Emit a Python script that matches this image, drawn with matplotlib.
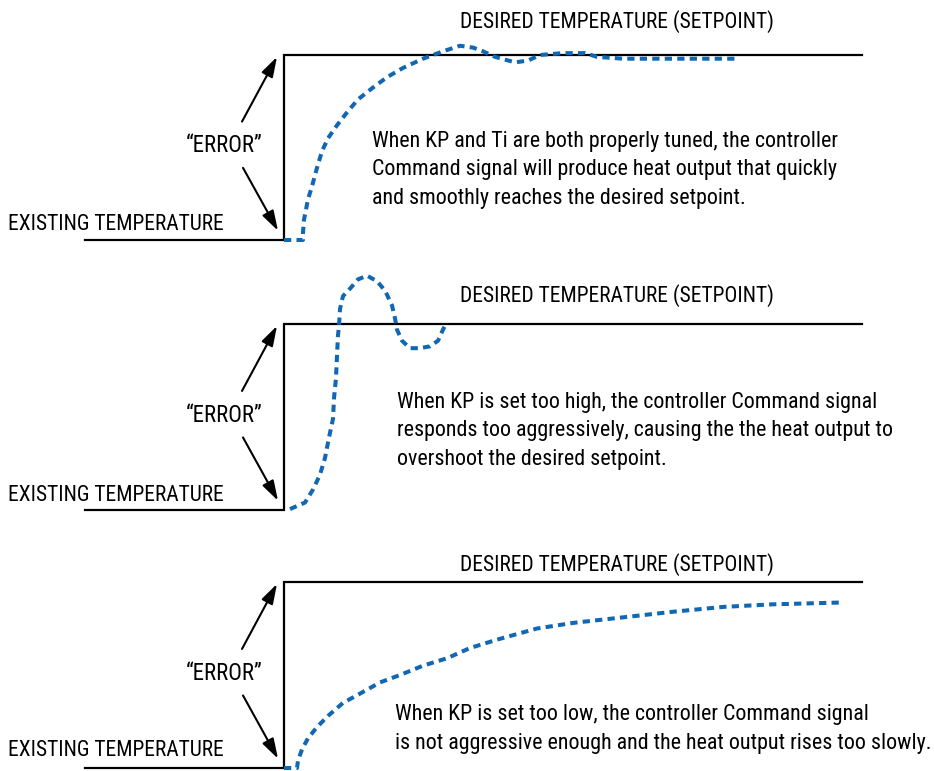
import matplotlib
matplotlib.use("Agg")
import numpy as np
import matplotlib.pyplot as plt

plt.rcParams['font.family'] = ['Roboto Condensed', 'DejaVu Sans']

# setpoint step (time, normalised temperature: 0 = existing, 1 = setpoint)
step_t = [-199, 0, 0, 578]
step_level = [0, 0, 1, 1]

# heat output responses
good_t = [0, 19, 19, 20, 24, 28, 33, 38, 44, 53, 63, 74, 88, 103, 119, 139, 159, 176,
          189, 199, 211, 231, 244, 256, 278, 289, 301, 313, 339, 451]
good_temp = [0, 0, 0.04, 0.11, 0.22, 0.29, 0.39, 0.48, 0.55, 0.62, 0.69, 0.76, 0.82, 0.88,
             0.93, 0.98, 1.02, 1.05, 1.04, 1.02, 0.99, 0.96, 0.97, 1.0, 1.01, 1.01, 1.01,
             0.99, 0.98, 0.98]

high_t = [6, 21, 29, 36, 41, 45, 49, 50, 52, 53, 54, 55, 56, 59, 66, 74, 83, 93, 101, 108,
          111, 113, 118, 126, 136, 146, 154, 159, 161]
high_temp = [0.005, 0.04, 0.11, 0.19, 0.28, 0.39, 0.49, 0.60, 0.71, 0.83, 0.94, 0.99, 1.08,
             1.15, 1.19, 1.24, 1.26, 1.23, 1.18, 1.10, 1.03, 0.97, 0.91, 0.87, 0.87, 0.88,
             0.91, 0.97, 0.99]

low_t = [0, 13, 14, 18, 24, 33, 44, 59, 76, 96, 116, 139, 163, 186, 213, 253, 289, 339,
         389, 439, 489, 559]
low_temp = [0, 0, 0.04, 0.10, 0.16, 0.22, 0.28, 0.35, 0.40, 0.46, 0.50, 0.55, 0.59, 0.645,
            0.69, 0.75, 0.78, 0.81, 0.84, 0.866, 0.88, 0.89]

captions = [
    "When KP and Ti are both properly tuned, the controller\n"
    "Command signal will produce heat output that quickly\n"
    "and smoothly reaches the desired setpoint.",
    "When KP is set too high, the controller Command signal\n"
    "responds too aggressively, causing the the heat output to\n"
    "overshoot the desired setpoint.",
    "When KP is set too low, the controller Command signal\n"
    "is not aggressive enough and the heat output rises too slowly.",
]
responses = [(good_t, good_temp), (high_t, high_temp), (low_t, low_temp)]

# layout (pixels of the 934x771 figure)
W, H = 934, 771
step_px = 284
exist_px = [240, 510, 768]
set_px = [55, 324, 582]
label_px = [22, 296, 565]
existing_px = [224, 496, 751]
caption_xy = [(372, 170), (397, 431), (395, 729)]

blue = "#1067b3"
fs = 15.5
fs_body = 15.8

fig = plt.figure(figsize=(W / 100, H / 100), dpi=100)

arrow = dict(arrowstyle='-|>,head_length=0.55,head_width=0.17', color='black', lw=1.5,
             mutation_scale=22, shrinkA=0, shrinkB=0)

for i in range(3):
    k = exist_px[i] - set_px[i]
    ax = fig.add_axes([0, 0, 1, 1])
    ax.patch.set_visible(False)
    ax.axis('off')
    ax.set_xlim(-step_px, W - step_px)
    ax.set_ylim(-(H - exist_px[i]) / k, exist_px[i] / k)

    ax.plot(step_t, step_level, color='black', lw=1.6, solid_joinstyle='miter')
    t, temp = responses[i]
    ax.plot(t, temp, color=blue, lw=2.9, linestyle=(0, (1.8, 1.3)), dash_capstyle='butt')

    ax.annotate("", xy=(-7, 0.99), xytext=(-42, 0.64), arrowprops=arrow)
    ax.annotate("", xy=(-6, 0.05), xytext=(-41, 0.39), arrowprops=arrow)
    ax.text(-60, 0.51, "\u201cERROR\u201d", ha='center', va='center', fontsize=16.5)
    ax.text(-276, (exist_px[i] - existing_px[i]) / k, "EXISTING TEMPERATURE",
            ha='left', va='center', fontsize=fs)
    ax.text(176, (exist_px[i] - label_px[i]) / k, "DESIRED TEMPERATURE (SETPOINT)",
            ha='left', va='center', fontsize=fs)

    cx, cy = caption_xy[i]
    ax.text(cx - step_px, (exist_px[i] - cy) / k, captions[i], ha='left', va='center',
            fontsize=fs_body, linespacing=1.46)

fig.savefig("out.png", dpi=100)
